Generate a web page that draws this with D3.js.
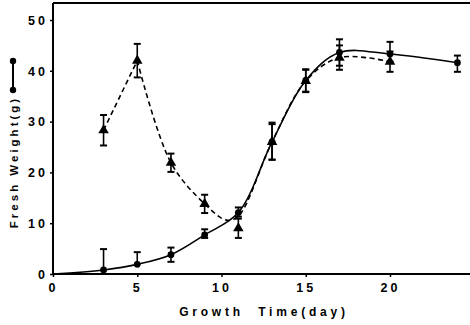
<!DOCTYPE html>
<html>
<head>
<meta charset="utf-8">
<script src="https://cdn.jsdelivr.net/npm/d3@7/dist/d3.min.js"></script>
<style>
  html, body { margin: 0; padding: 0; background: #fff; }
  svg { display: block; }
  text { font-family: "Liberation Sans", Arial, sans-serif; font-weight: bold; fill: #000; white-space: pre; }
</style>
</head>
<body>
<svg id="chart" width="470" height="325"></svg>
<script>
// Sampling days and mean fresh weight (g) for the two series
const days = [3, 5, 7, 9, 11, 13, 15, 17, 20, 24];
const circleMean = [0.8, 1.9, 3.8, 7.7, 12.1, 26.0, 38.1, 43.6, 43.3, 41.6];
const circleErrUp = [4.1, 2.4, 1.4, 1.1, 1.0, 3.8, 2.2, 2.6, 2.4, 1.4];
const circleErrDown = [0.0, 0.0, 1.4, 0.6, 0.8, 3.5, 2.2, 2.6, 1.5, 1.8];

const triDays = [3, 5, 7, 9, 11, 13, 15, 17, 20];
const triMean = [28.3, 42.0, 21.9, 13.8, 9.0, 26.0, 38.0, 42.6, 41.8];
const triErr = [3.0, 3.3, 1.8, 1.8, 1.9, 3.5, 2.2, 2.4, 2.0];

// Smooth growth curve through the circle series, starting at the origin
const curveDays = [0, 3, 5, 7, 9, 11, 13, 15, 17, 20, 24];
const curveWeight = [0.0, 0.8, 1.9, 3.8, 7.7, 12.1, 26.0, 38.1, 43.6, 43.3, 41.6];

// Hand-drawn trend for the triangle series: rises to a sharp peak on day 5,
// bottoms out just before day 11, then follows the growth curve
const trendDays = [3, 5, 7, 9, 10.3, 11, 13, 15, 17, 20];
const trendWeight = [28.3, 42.0, 21.9, 13.8, 10.6, 11.4, 26.0, 38.0, 42.6, 41.8];

const xTicks = [0, 5, 10, 15, 20];
const yTicks = [0, 10, 20, 30, 40, 50];

const svg = d3.select("#chart");
const plotLeft = 53, plotRight = 470, plotTop = 3, plotBottom = 274;

const x = d3.scaleLinear().domain([0, 20]).range([plotLeft, 390]);
const y = d3.scaleLinear().domain([0, 50]).range([plotBottom, 20]);

// Frame: left axis, bottom axis and top rule (no right border)
svg.append("line").attr("x1", plotLeft).attr("x2", plotRight).attr("y1", plotTop).attr("y2", plotTop)
  .attr("stroke", "#000").attr("stroke-width", 2);

const xAxis = svg.append("g").attr("transform", `translate(0,${plotBottom})`)
  .call(d3.axisBottom(x).tickValues(xTicks).tickSize(3).tickSizeOuter(0).tickPadding(6));
xAxis.select(".domain").remove();
svg.append("line").attr("x1", plotLeft).attr("x2", plotRight).attr("y1", plotBottom).attr("y2", plotBottom)
  .attr("stroke", "#000").attr("stroke-width", 2);

const yAxis = svg.append("g").attr("transform", `translate(${plotLeft},0)`)
  .call(d3.axisLeft(y).tickValues(yTicks).tickSize(3).tickSizeOuter(0).tickPadding(5));
yAxis.select(".domain").remove();
svg.append("line").attr("x1", plotLeft).attr("x2", plotLeft).attr("y1", plotTop).attr("y2", plotBottom)
  .attr("stroke", "#000").attr("stroke-width", 2);

svg.selectAll(".tick line").attr("stroke", "#000").attr("stroke-width", 1.5);
svg.selectAll(".tick text")
  .attr("font-size", 12.5).attr("font-weight", "bold")
  .attr("letter-spacing", 3).attr("fill", "#000")
  .style("font-family", "'Liberation Sans', Arial, sans-serif");
yAxis.selectAll(".tick text").attr("dx", 3).attr("dy", "0.35em");

// Axis titles
svg.append("text").attr("x", 264).attr("y", 316).attr("text-anchor", "middle")
  .attr("font-size", 12).attr("letter-spacing", 3.8)
  .text("Growth  Time(day)");
svg.append("text")
  .attr("transform", "translate(18,162) rotate(-90)")
  .attr("text-anchor", "middle").attr("font-size", 11.5).attr("letter-spacing", 3)
  .text("Fresh Weight(g)");

// Legend key for the solid circle series
svg.append("line").attr("x1", 13).attr("x2", 13).attr("y1", 61).attr("y2", 90)
  .attr("stroke", "#000").attr("stroke-width", 2);
svg.selectAll(".key").data([61, 90]).enter().append("circle")
  .attr("cx", 13).attr("cy", d => d).attr("r", 3.2).attr("fill", "#000");

// Solid growth curve
const solid = d3.line().x((d, i) => x(curveDays[i])).y(d => y(d)).curve(d3.curveCatmullRom.alpha(0.5));
svg.append("path").datum(curveWeight).attr("d", solid)
  .attr("fill", "none").attr("stroke", "#000").attr("stroke-width", 1.6);

// Dashed trend: straight rise into the peak, smooth afterwards
const trendPts = trendDays.map((d, i) => [x(d), y(trendWeight[i])]);
const rise = d3.line().curve(d3.curveLinear);
const fall = d3.line().curve(d3.curveCatmullRom.alpha(0.5));
const dashStyle = p => p.attr("fill", "none").attr("stroke", "#000")
  .attr("stroke-width", 1.6).attr("stroke-dasharray", "5,3.5");
svg.append("path").attr("d", rise(trendPts.slice(0, 2))).call(dashStyle);
svg.append("path").attr("d", fall(trendPts.slice(1))).call(dashStyle);

// Error bars
function errorBars(xs, means, up, down) {
  const g = svg.append("g").attr("stroke", "#000").attr("stroke-width", 1.6);
  means.forEach((m, i) => {
    const cx = x(xs[i]);
    const y1 = y(m + up[i]), y2 = y(m - down[i]);
    g.append("line").attr("x1", cx).attr("x2", cx).attr("y1", y1).attr("y2", y2);
    g.append("line").attr("x1", cx - 3.5).attr("x2", cx + 3.5).attr("y1", y1).attr("y2", y1).attr("stroke-width", 2);
    if (down[i] > 0) {
      g.append("line").attr("x1", cx - 3.5).attr("x2", cx + 3.5).attr("y1", y2).attr("y2", y2).attr("stroke-width", 2);
    }
  });
}
errorBars(triDays, triMean, triErr, triErr);
errorBars(days, circleMean, circleErrUp, circleErrDown);

// Markers
const tri = d3.symbol().type(d3.symbolTriangle).size(48);
svg.selectAll(".tri").data(triMean).enter().append("path")
  .attr("d", tri)
  .attr("transform", (d, i) => `translate(${x(triDays[i])},${y(d)})`)
  .attr("fill", "#000");

svg.selectAll(".dot").data(circleMean).enter().append("circle")
  .attr("cx", (d, i) => x(days[i])).attr("cy", d => y(d)).attr("r", 3.4)
  .attr("fill", "#000");
</script>
</body>
</html>
